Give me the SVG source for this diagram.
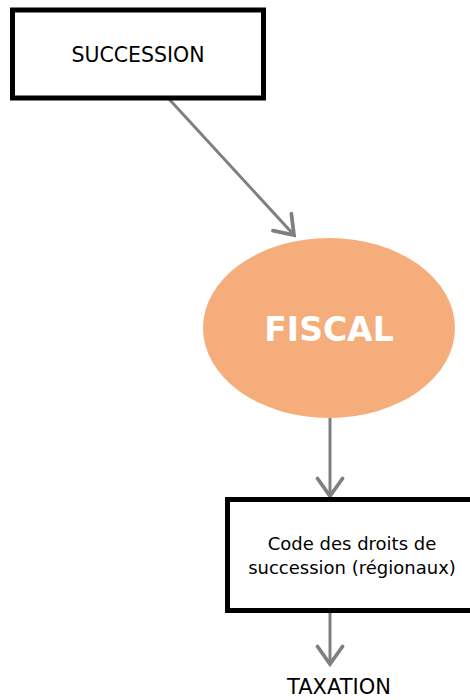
<svg xmlns="http://www.w3.org/2000/svg" width="470" height="700" viewBox="0 0 470 700">
<style>
.box{fill:#fff;stroke:#000;stroke-width:5}
.lbl{font-family:"DejaVu Sans","Liberation Sans",sans-serif;font-size:18px;fill:#000;text-anchor:middle}
.cap{font-size:20.5px}
.conn{stroke:#7f7f7f;stroke-width:3;fill:none}
</style>
<defs>
<marker id="arr" markerUnits="userSpaceOnUse" markerWidth="30" markerHeight="30" viewBox="-16 -12 20 24" refX="0" refY="0" orient="auto">
<path d="M-14,-10 L0,0 L-14,10" fill="none" stroke="#7f7f7f" stroke-width="3" stroke-linecap="round" stroke-linejoin="miter"/>
</marker>
</defs>
<g id="connectors">
<line class="conn" x1="169" y1="99" x2="294" y2="235" marker-end="url(#arr)"/>
<line class="conn" x1="330" y1="418" x2="330" y2="496" marker-end="url(#arr)"/>
<line class="conn" x1="330" y1="613" x2="330" y2="664" marker-end="url(#arr)"/>
</g>
<g id="succession">
<rect class="box" x="12.5" y="10" width="251" height="88"/>
<text class="lbl cap" x="138" y="62">SUCCESSION</text>
</g>
<g id="fiscal">
<ellipse cx="329" cy="328" rx="126" ry="90" fill="#f5ae7b"/>
<text x="329" y="341" text-anchor="middle" font-family="DejaVu Sans,Liberation Sans,sans-serif" font-weight="bold" font-size="33" fill="#fff">FISCAL</text>
</g>
<g id="code">
<rect class="box" x="227.5" y="499.5" width="250" height="111"/>
<text class="lbl" x="352" y="550">Code des droits de</text>
<text class="lbl" x="352" y="574">succession (régionaux)</text>
</g>
<g id="taxation">
<text class="lbl" x="339" y="694" style="font-size:21px">TAXATION</text>
</g>
</svg>
